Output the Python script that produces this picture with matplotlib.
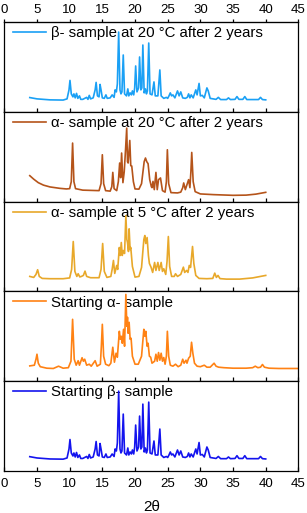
import numpy as np
import matplotlib
matplotlib.use('Agg')
from matplotlib import pyplot as plt

plt.rcParams['font.family'] = ['Liberation Sans', 'DejaVu Sans']

# beta form pattern (2theta, intensity in arbitrary units)
beta_x = [3.9, 5, 7, 9, 9.6, 9.9, 10.05, 10.25, 10.5, 10.65, 10.85, 11.05, 11.25, 11.5, 11.7,
          12.0, 12.6, 12.8, 13.0, 13.2, 13.6, 13.9, 14.05, 14.25, 14.5, 14.65, 14.8, 15.0, 15.3,
          15.55, 15.75, 16.2, 16.5, 16.8, 16.95, 17.15, 17.3, 17.5, 17.7, 17.85, 18.0, 18.2, 18.4,
          18.7, 18.9, 19.05, 19.25, 19.45, 19.6, 19.8, 19.95, 20.1, 20.3, 20.55, 20.7, 20.9, 21.05,
          21.2, 21.4, 21.6, 21.75, 21.9, 22.1, 22.3, 22.6, 22.9, 23.1, 23.5, 23.8, 24.0, 24.4, 24.8,
          25.0, 25.2, 25.4, 25.6, 25.8, 26.1, 26.5, 26.75, 27.0, 27.3, 27.7, 28.0, 28.2, 28.4, 28.6,
          28.9, 29.3, 29.5, 29.8, 30.0, 30.3, 30.6, 31.0, 31.2, 31.5, 32.4, 32.75, 33.1, 34.0, 34.3,
          34.6, 35.3, 35.6, 35.9, 36.5, 36.8, 37.1, 38.9, 39.2, 39.5, 40.0]
beta_y = [14.3, 13, 12, 11.8, 13, 22, 31.5, 18, 15, 18, 14, 18.5, 13.5, 16, 12.5,
          12.5, 14.5, 12.5, 16.5, 13, 14, 22, 29.5, 16, 15, 27.5, 22, 14, 13.5,
          17, 13.5, 14, 17, 14.5, 22, 20, 28, 80, 22, 18, 20, 57, 18,
          16, 23, 16, 19, 17, 21, 17, 24, 46, 20, 24, 55, 22, 24,
          67, 19, 23, 18, 21, 69, 18, 17, 30, 16, 16, 42, 16, 13.5, 14.5,
          13.5, 16, 19, 16, 17, 14, 21, 16, 20, 14, 13.5, 14.5, 18, 14, 17,
          14, 22, 17, 28.5, 16, 16.5, 14, 24, 21, 13.5, 12.5, 14.5, 12.3, 12.3, 14,
          12.3, 12.5, 15.3, 12.5, 12.5, 15.3, 12.3, 12.3, 14.5, 12.3, 12]

# alpha sample at 20 C after 2 years
a20_x = [3.9, 4.5, 5.2, 6, 7, 8.5, 9.5, 10.0, 10.25, 10.45, 10.65, 10.9, 12, 14.5, 14.8, 15.0,
         15.2, 15.5, 16.2, 16.45, 16.6, 16.8, 17.2, 17.45, 17.65, 17.8, 17.95, 18.15, 18.35, 18.55,
         18.73, 18.85, 18.95, 19.2, 19.35, 19.5, 19.75, 20.0, 20.6, 21.0, 21.4, 21.6, 21.8, 22.0,
         22.25, 22.5, 22.6, 22.75, 22.95, 23.2, 23.4, 23.6, 23.9, 24.2, 24.6, 24.8, 24.95, 25.15,
         25.5, 26.5, 27.0, 27.3, 27.45, 27.7, 28.0, 28.2, 28.4, 28.55, 28.68, 28.9, 29.2, 30, 32,
         35, 37, 38.5, 40]
a20_y = [26, 22.5, 19, 16.5, 14.7, 13.3, 12.7, 13, 20, 58.7, 20, 13, 11.5, 11, 18, 47,
         18, 11, 10.5, 15, 29.3, 13, 11, 20, 38.7, 24, 48.7, 19, 30, 52,
         73.7, 40, 38.7, 61.3, 36, 35.7, 20, 12.7, 12.5, 18, 40, 43.7, 40, 38,
         22, 15, 14, 20.3, 12, 29.3, 12, 22, 23.7, 11, 9.5, 20, 52, 18,
         9, 8.7, 9.5, 14, 18.7, 12, 18, 22, 14, 30, 49.3, 20, 10, 7.7, 7,
         6.3, 6.5, 7.5, 9.3]

# alpha sample at 5 C after 2 years
a5_x = [3.9, 4.5, 4.85, 5.1, 5.35, 5.8, 7, 9, 10.0, 10.3, 10.55, 10.8, 11.1, 11.3, 11.55, 11.8,
        12.1, 12.35, 12.6, 13.2, 14.5, 14.8, 15.05, 15.3, 15.7, 16.3, 16.5, 16.7, 16.9, 17.2,
        17.35, 17.6, 17.75, 17.9, 18.05, 18.2, 18.4, 18.6, 18.75, 18.85, 19.0, 19.1, 19.25, 19.35,
        19.6, 20.0, 20.6, 21.0, 21.35, 21.5, 21.65, 21.85, 22.05, 22.2, 22.45, 22.7, 23.0, 23.2,
        23.5, 23.7, 24.0, 24.2, 24.4, 24.7, 24.9, 25.1, 25.3, 25.6, 26.0, 26.2, 26.5, 27.0, 27.4,
        27.6, 27.9, 28.1, 28.3, 28.5, 28.8, 29.0, 29.3, 29.8, 31, 31.9, 32.2, 32.45, 32.7, 33.0,
        34, 36, 38, 40]
a5_y = [15, 14, 17, 21.7, 15, 13, 12.7, 12.7, 13.5, 22, 50, 20, 15, 17.7, 14.5, 15,
        16, 20.3, 15, 13.7, 13.7, 22, 48, 20, 14, 15, 22, 31, 18, 26,
        22, 44, 36, 49, 36, 41, 38, 76, 52, 49, 40, 62.7, 42, 44,
        25, 14.3, 15, 24, 52, 56, 48, 54, 36, 28, 24.3, 19, 29, 21,
        29, 21, 29, 20, 22.7, 17, 30, 55, 25, 15, 15, 17.7, 15, 17, 24.3,
        19, 21, 19, 26, 24, 45, 28, 16, 13, 12.7, 13, 18.3, 14, 16, 12.8,
        12.3, 12.3, 13.5, 16]

# starting alpha sample
a0_x = [3.9, 4.6, 4.85, 5.0, 5.2, 5.5, 6.5, 7.5, 8.3, 9.0, 9.8, 10.2, 10.45, 10.7, 11.0, 11.3,
        11.5, 11.9, 12.1, 12.3, 12.6, 13.0, 13.3, 13.9, 14.2, 14.7, 14.85, 15.0, 15.2, 15.5, 16.0,
        16.3, 16.6, 16.85, 17.1, 17.3, 17.6, 17.75, 17.9, 18.05, 18.25, 18.4, 18.6, 18.75, 18.85,
        18.95, 19.1, 19.25, 19.4, 19.6, 20.0, 20.5, 21.0, 21.35, 21.5, 21.65, 21.85, 22.0, 22.2,
        22.4, 22.6, 23.0, 23.2, 23.4, 23.6, 23.8, 24.0, 24.2, 24.4, 24.6, 24.8, 24.95, 25.15, 25.4,
        25.8, 26.2, 26.6, 27.0, 27.3, 27.5, 27.8, 27.95, 28.2, 28.45, 28.65, 28.85, 29.1, 29.5,
        30.0, 30.6, 31.0, 31.5, 32.1, 32.4, 32.8, 33.6, 35, 37, 38.0, 38.4, 38.8, 39.2, 39.5, 39.8,
        40.5, 42, 45]
a0_y = [15.3, 16, 22, 27, 18, 14.5, 13, 12.7, 15, 13, 13.5, 20, 62, 22, 16, 20.5,
        16, 23.5, 20, 22, 16, 17, 15, 20.5, 15, 17, 35, 57, 25, 17, 15.5,
        18, 34, 19, 28, 24, 50, 42, 45, 38, 52, 35, 87, 55, 64,
        48, 59, 42, 43, 25, 17, 17, 25, 52, 45, 50, 35, 38, 25,
        24, 18, 20, 27, 20, 28.7, 21, 28, 20, 23.7, 17, 25, 50, 25, 16,
        15, 17, 14.5, 16, 22, 18, 21, 18, 23, 25, 39, 28, 18, 15,
        14.5, 16, 14, 14, 18, 15, 14, 13.5, 13, 13, 13.5, 15, 13.5, 14, 16.7, 14,
        13, 12.7, 12.7]

labels = ['\u03b2- sample at 20 \u00b0C after 2 years',
          '\u03b1- sample at 20 \u00b0C after 2 years',
          '\u03b1- sample at 5 \u00b0C after 2 years',
          'Starting \u03b1- sample',
          'Starting \u03b2- sample']
series = [(beta_x, beta_y), (a20_x, a20_y), (a5_x, a5_y), (a0_x, a0_y), (beta_x, beta_y)]
colors = ['#1aa0f5', '#b5541a', '#e8a82a', '#ff8214', '#1414ee']
xticks = list(range(0, 50, 5))

fig, axes = plt.subplots(5, 1, figsize=(3.07, 5.13), dpi=100, sharex=True)
fig.subplots_adjust(left=0.014, right=0.972, bottom=0.082, top=0.957, hspace=0)

for i, ax in enumerate(axes):
    x, y = series[i]
    ax.plot(x, y, color=colors[i], lw=1.2, label=labels[i], zorder=2)
    ax.set_xlim(0, 45)
    ax.set_ylim(0, 90)
    ax.set_yticks([])
    ax.set_xticks(xticks)
    for s in ax.spines.values():
        s.set_linewidth(0.9)
    ax.tick_params(axis='x', direction='in', length=3, width=0.9, labelsize=9.5, pad=5,
                   bottom=True, labelbottom=(i == 4))
    # legend sits a bit inside the top edge, peaks may run over it
    leg = ax.legend(loc='upper left', bbox_to_anchor=(0.008, 1.02), borderaxespad=0,
                    frameon=False, fontsize=10.8, handlelength=2.2, handletextpad=0.35)
    leg.set_zorder(1)

sec = axes[0].secondary_xaxis('top')
sec.set_xticks(xticks)
sec.tick_params(direction='out', length=2.5, width=0.9, labelsize=9.5, pad=2)
axes[4].set_xlabel('2\u03b8', fontsize=11, labelpad=7)

plt.savefig('out.png', dpi=100)
